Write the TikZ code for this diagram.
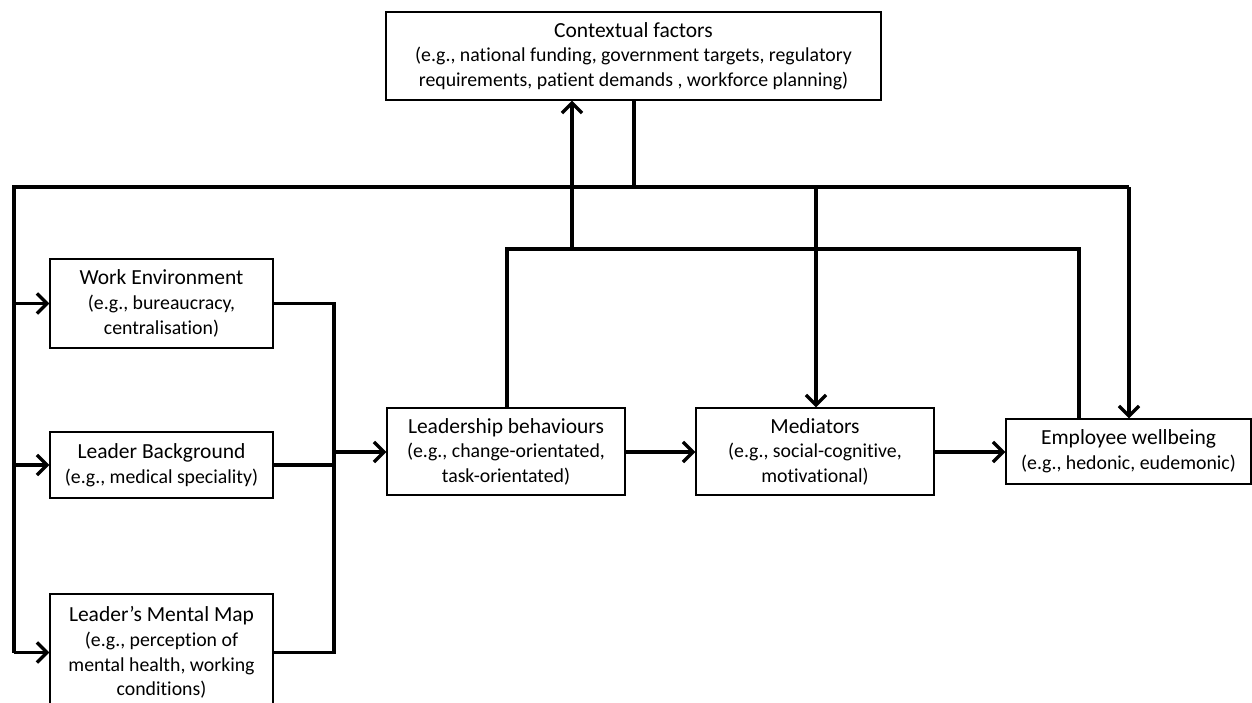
\documentclass[tikz,border=0pt]{standalone}
\usepackage{fontspec}
\setmainfont{Carlito}[Ligatures=NoCommon]
\usetikzlibrary{arrows.meta,calc}
% box heading line set a little larger than the example lines below it
\newcommand{\boxhead}[1]{{\fontsize{21.5}{25}\selectfont #1}}
\begin{document}
\begin{tikzpicture}[x=1pt,y=-1pt,
  box/.style={draw=black,line width=1.3pt,fill=white,inner sep=0pt,align=center,
    font=\fontsize{19.8}{24.6}\selectfont},
  conn/.style={line width=3.4pt,line join=miter},
  arr/.style={conn,-{Straight Barb[length=10pt,width=20pt,line width=3.4pt]}}]
\clip (0,0) rectangle (1252,702);
\useasboundingbox (0,0) rectangle (1252,702);

% boxes
\node[box,minimum width=495pt,minimum height=88pt] (ctx) at (633.5,56)
  {\boxhead{Contextual factors}\\(e.g., national funding, government targets, regulatory\\requirements, patient demands , workforce planning)};
\node[box,minimum width=223pt,minimum height=89pt] (we) at (161.5,303.5)
  {\boxhead{Work Environment}\\(e.g., bureaucracy,\\centralisation)};
\node[box,minimum width=223pt,minimum height=66pt] (lb) at (161.5,465)
  {\boxhead{Leader Background}\\(e.g., medical speciality)};
\node[box,minimum width=223pt,minimum height=117pt] (mm) at (161.5,652.5)
  {\boxhead{Leader’s Mental Map}\\(e.g., perception of\\mental health, working\\conditions)};
\node[box,minimum width=238pt,minimum height=87pt] (lead) at (506,451.5)
  {\boxhead{Leadership behaviours}\\(e.g., change-orientated,\\task-orientated)};
\node[box,minimum width=238pt,minimum height=87pt] (med) at (815,451.5)
  {\boxhead{Mediators}\\(e.g., social-cognitive,\\motivational)};
\node[box,minimum width=245pt,minimum height=65pt] (emp) at (1128.5,451.5)
  {\boxhead{Employee wellbeing}\\(e.g., hedonic, eudemonic)};

% routing points
\coordinate (busL) at (14,187);
\coordinate (busR) at (1129,187);
\coordinate (busC) at (634,187);
\coordinate (busM) at (816,187);
\coordinate (fbL) at (507,249);
\coordinate (fbR) at (1079,249);
\coordinate (fbC) at (572,249);
\coordinate (colX) at (334,452);

% contextual factors bus
\draw[conn] (busC |- ctx.south) -- (busC);
\draw[conn] (busL |- mm.west) -- (busL) -- (busR);
\draw[arr] (busR) -- (busR |- emp.north);
\draw[arr] (busM) -- (busM |- med.north);
\draw[arr] (busL |- we.west) -- (we.west);
\draw[arr] (busL |- lb.west) -- (lb.west);
\draw[arr] (busL |- mm.west) -- (mm.west);

% feedback to contextual factors
\draw[conn] (fbL |- lead.north) -- (fbL) -- (fbR) -- (fbR |- emp.north);
\draw[arr] (fbC) -- (fbC |- ctx.south);

% antecedents collector
\draw[conn] (we.east) -- (colX |- we.east) -- (colX |- mm.east) -- (mm.east);
\draw[conn] (lb.east) -- (colX |- lb.east);
\draw[arr] (colX) -- (colX -| lead.west);

% main chain
\draw[arr] (lead.east |- colX) -- (med.west |- colX);
\draw[arr] (med.east |- colX) -- (emp.west |- colX);
\end{tikzpicture}
\end{document}
